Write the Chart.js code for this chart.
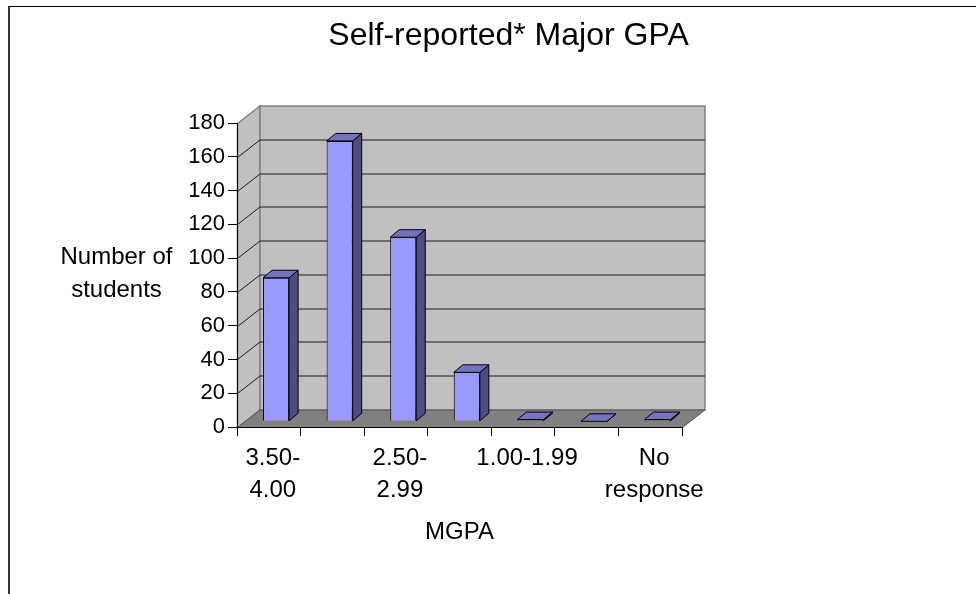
<!DOCTYPE html>
<html>
<head>
<meta charset="utf-8">
<title>Self-reported* Major GPA</title>
<script src="https://cdn.jsdelivr.net/npm/chart.js@4/dist/chart.umd.min.js"></script>
<style>
  html, body { margin: 0; padding: 0; background: #fff; overflow: hidden; }
  #frame { position: absolute; left: 8px; top: 6px; right: 0; bottom: 0; border-top: 1px solid #000; border-left: 2px solid #333; }
  #gpaChart { position: absolute; left: 0; top: 0; }
</style>
</head>
<body>
<div id="frame"></div>
<canvas id="gpaChart" width="976" height="594"></canvas>
<script>
// ---- Data ----
const categories = ['3.50-4.00', '', '2.50-2.99', '', '1.00-1.99', '', 'No response'];
const tickLines = [['3.50-', '4.00'], '', ['2.50-', '2.99'], '', '1.00-1.99', '', ['No', 'response']];
const studentCounts = [85, 166, 109, 29, 1, 0, 1];
const yTicks = [0, 20, 40, 60, 80, 100, 120, 140, 160, 180];

const chartTitle = 'Self-reported* Major GPA';
const yTitle = ['Number of', 'students'];
const xTitle = 'MGPA';

// ---- Box depth ----
const WALL_DX = 22.5, WALL_DY = -17.5;
const BAR_SHIFT_X = 7.3, BAR_SHIFT_Y = -5.7;
const BAR_DX = 9, BAR_DY = -7.5;
const FONT = '"Liberation Sans", Arial, sans-serif';

function poly(ctx, pts, fill, stroke, width) {
  ctx.beginPath();
  pts.forEach((p, i) => i ? ctx.lineTo(p[0], p[1]) : ctx.moveTo(p[0], p[1]));
  ctx.closePath();
  ctx.fillStyle = fill;
  ctx.fill();
  if (stroke) { ctx.strokeStyle = stroke; ctx.lineWidth = width || 1; ctx.stroke(); }
}

// Back wall, side wall, floor and gridlines go behind the axes
const boxPlugin = {
  id: 'box',
  beforeDraw(chart) {
    const { ctx, chartArea: a, scales: { y } } = chart;
    const l = a.left + 0.5, r = a.right + 0.5, t = a.top + 0.5, b = a.bottom + 0.5;
    const dx = WALL_DX, dy = WALL_DY;
    ctx.save();
    poly(ctx, [[l, t], [l + dx, t + dy], [l + dx, b + dy], [l, b]], '#c0c0c0', '#808080', 1.5);
    poly(ctx, [[l + dx, t + dy], [r + dx, t + dy], [r + dx, b + dy], [l + dx, b + dy]], '#c0c0c0', '#808080', 1.5);
    poly(ctx, [[l, b], [l + dx, b + dy], [r + dx, b + dy], [r, b]], '#808080', '#555');
    ctx.strokeStyle = '#1a1a1a';
    ctx.lineWidth = 1;
    yTicks.slice(1, -1).forEach(v => {
      const py = Math.round(y.getPixelForValue(v)) + 0.5;
      ctx.beginPath();
      ctx.moveTo(l, py);
      ctx.lineTo(l + dx, py + dy);
      ctx.lineTo(r + dx, py + dy);
      ctx.stroke();
    });
    ctx.restore();
  },
  // Text that sits off the plot centre
  afterDraw(chart) {
    const { ctx } = chart;
    ctx.save();
    ctx.fillStyle = '#000';
    ctx.textAlign = 'center';
    ctx.textBaseline = 'alphabetic';
    ctx.font = '32px ' + FONT;
    ctx.fillText(chartTitle, 508.5, 44.5);
    ctx.textBaseline = 'middle';
    ctx.font = '24px ' + FONT;
    yTitle.forEach((line, i) => ctx.fillText(line, 116.5, 257 + i * 33.5));
    ctx.restore();
  },
  // Bars stand partway into the floor
  beforeDatasetDraw(chart) {
    chart.ctx.save();
    chart.ctx.translate(BAR_SHIFT_X, BAR_SHIFT_Y);
  },
  afterDatasetDraw(chart, args) {
    const { ctx } = chart;
    const dx = BAR_DX, dy = BAR_DY;
    args.meta.data.forEach(bar => {
      const x0 = bar.x - bar.width / 2, x1 = bar.x + bar.width / 2;
      poly(ctx, [[x1, bar.y], [x1 + dx, bar.y + dy], [x1 + dx, bar.base + dy], [x1, bar.base]], '#4d4d80', '#000');
      poly(ctx, [[x0, bar.y], [x0 + dx, bar.y + dy], [x1 + dx, bar.y + dy], [x1, bar.y]], '#7373bf', '#000');
    });
    ctx.restore();
  }
};

new Chart(document.getElementById('gpaChart'), {
  type: 'bar',
  data: {
    labels: categories,
    datasets: [{
      label: 'Number of students',
      data: studentCounts,
      backgroundColor: '#9999ff',
      borderColor: '#000',
      borderWidth: 1,
      barPercentage: 0.41,
      categoryPercentage: 1,
      clip: false
    }]
  },
  options: {
    responsive: false,
    animation: false,
    layout: { padding: { top: 123, right: 294 } },
    plugins: { legend: { display: false }, tooltip: { enabled: false } },
    scales: {
      x: {
        afterFit: s => { s.height = 167; },
        border: { display: true, color: '#000', width: 1 },
        grid: { display: true, drawOnChartArea: false, drawTicks: true, tickLength: 9, color: '#000' },
        ticks: {
          autoSkip: false, maxRotation: 0, padding: 6, color: '#000', labelOffset: 4,
          font: { family: FONT, size: 24, lineHeight: 1.33 },
          callback: (v, i) => tickLines[i]
        },
        title: { display: true, text: xTitle, color: '#000', font: { family: FONT, size: 24 }, padding: { top: 0, bottom: 47.5 } }
      },
      y: {
        min: 0,
        max: 180,
        afterFit: s => { s.width = 237; },
        afterBuildTicks: s => { s.ticks = yTicks.map(value => ({ value })); },
        border: { display: true, color: '#000', width: 1 },
        grid: { display: true, drawOnChartArea: false, drawTicks: true, tickLength: 9, color: '#000' },
        ticks: { padding: 3, color: '#000', font: { family: FONT, size: 22 } }
      }
    }
  },
  plugins: [boxPlugin]
});
</script>
</body>
</html>
